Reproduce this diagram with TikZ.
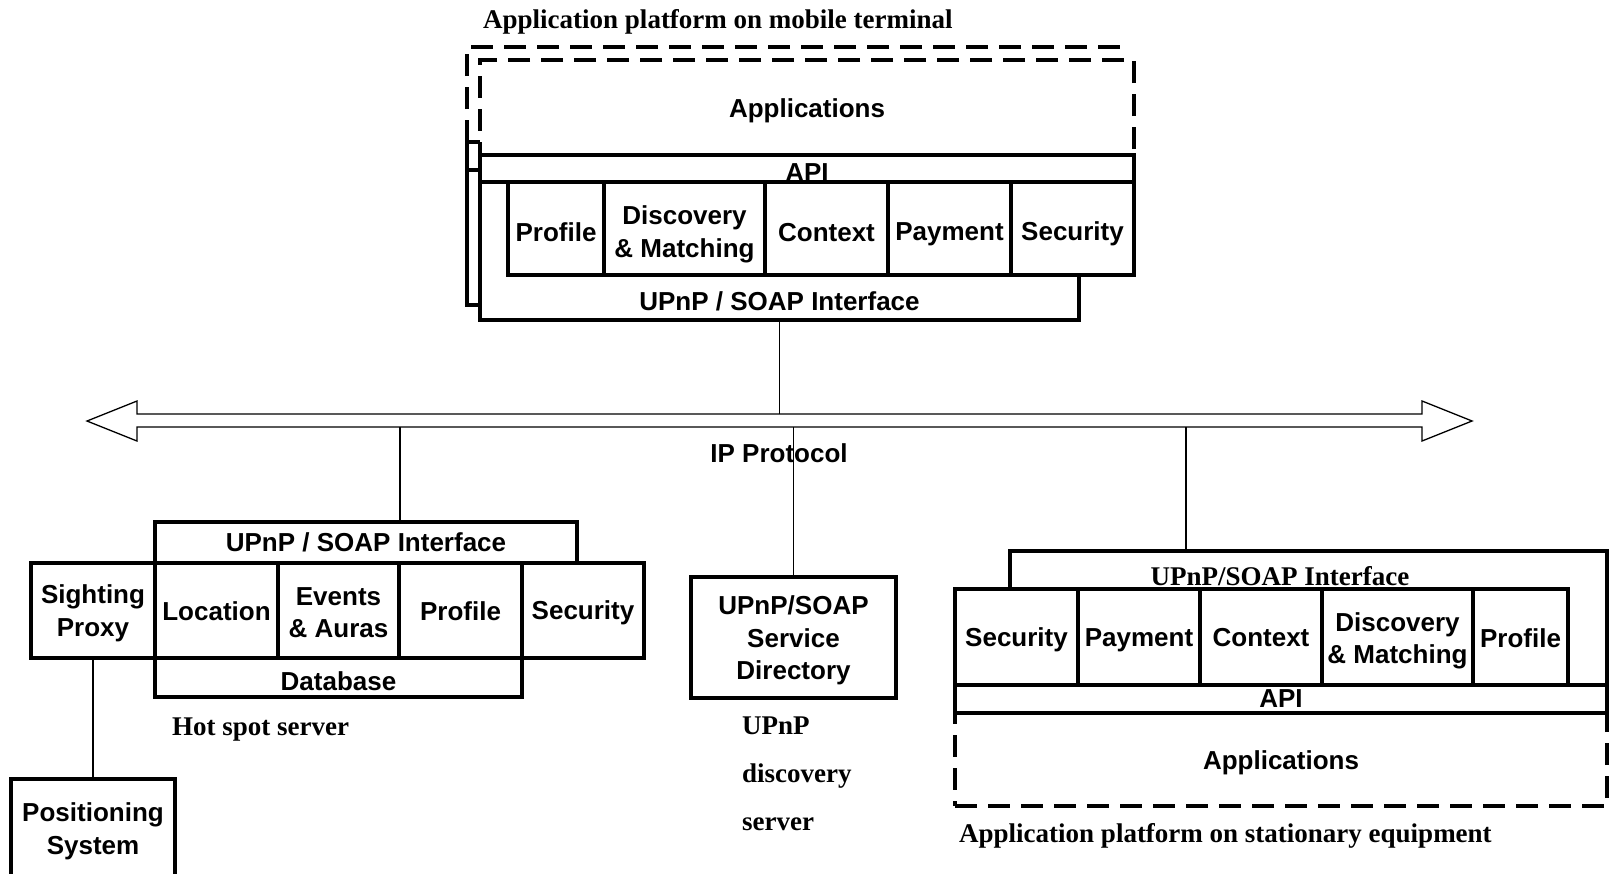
\documentclass[tikz,border=0pt]{standalone}
\usepackage{fontspec}
\setmainfont{Liberation Serif}
\newfontfamily\arialfam{Liberation Sans}
\tikzset{
 thk/.style={line width=3.5pt, line join=miter},
 thn/.style={line width=1.3pt},
 dsh/.style={line width=3.5pt, dash pattern=on 22pt off 11pt},
 sf/.style={font=\arialfam\bfseries\fontsize{26}{32.5}\selectfont, align=center, inner sep=0pt},
 rm/.style={font=\bfseries\fontsize{27}{48}\selectfont, inner sep=0pt},
 bxs/.style={thk, draw, fill=white, inner sep=0pt},
}
% \bx[box options]{name}{x1}{y1}{x2}{y2}{text drop}{text}
\newcommand\bx[8][]{%
 \node[bxs, minimum width={(#5-#3)*1pt}, minimum height={(#6-#4)*1pt}, #1] (#2) at ({(#3+#5)/2},{(#4+#6)/2}) {};
 \node[sf, yshift={-(#7)*1pt}] (#2t) at (#2.center) {#8};}
\begin{document}
\begin{tikzpicture}[x=1pt,y=-1pt]
\useasboundingbox (0,0) rectangle (1614,873);
% ---------------- top block: mobile terminal ----------------
\node[rm, anchor=base west] (ttl1) at (483,28) {Application platform on mobile terminal};
\fill[white] (467,47) rectangle (1120,142);
\draw[dsh] (467,142) -- (467,47) -- (1120,47);
\draw[thk] (480,142) -- (467,142) -- (467,305) -- (480,305);
\draw[thk] (467,170) -- (480,170);
\bx[dsh]{app1}{480}{60}{1134}{155}{3}{Applications}
\draw[thk, fill=white] (480,155) -- (1134,155) -- (1134,275) -- (1079,275) -- (1079,320) -- (480,320) -- cycle;
\draw[thk] (480,182) -- (1134,182);
\node[sf, anchor=base] (api1) at (807,181) {API};
\bx{prof1}{508}{182}{604}{275}{4}{Profile}
\bx{disc1}{604}{182}{765}{275}{6}{Discovery\\\& Matching}
\bx{ctx1}{765}{182}{888}{275}{4}{Context}
\bx{pay1}{888}{182}{1011}{275}{6}{Payment}
\bx{sec1}{1011}{182}{1134}{275}{5}{Security}
\bx[draw=none, fill=none]{up1}{480}{275}{1079}{320}{4}{UPnP / SOAP Interface}
% ---------------- bus ----------------
\draw[thn, fill=white] (87,421) -- (137,401) -- (137,414) -- (1422,414) -- (1422,401) -- (1472,421) -- (1422,441) -- (1422,427) -- (137,427) -- (137,441) -- cycle;
\node[minimum width=1285pt, minimum height=13pt, inner sep=0pt] (bus) at (779.5,420.5) {};
\draw[thn] (up1.south) -- (up1.south |- bus.north);
% ---------------- connectors below bus ----------------
\coordinate (hx) at (400,0);
\coordinate (rx) at (1186,0);
\node[minimum width=422pt, minimum height=41pt, inner sep=0pt] (up2h) at (366,542.5) {};
\node[minimum width=205pt, minimum height=121pt, inner sep=0pt] (dirh) at (793.5,637.5) {};
\node[minimum width=597pt, minimum height=38pt, inner sep=0pt] (up3) at (1308.5,570) {};
\draw[thn] (hx |- bus.south) -- (hx |- up2h.north);
\draw[thn] (dirh.north |- bus.south) -- (dirh.north);
\draw[thn] (rx |- bus.south) -- (rx |- up3.north);
\node[sf] (ip) at (779,453) {IP Protocol};
% ---------------- hot spot server ----------------
\bx{up2}{155}{522}{577}{563}{0}{UPnP / SOAP Interface}
\bx{sp}{31}{563}{155}{658}{3}{Sighting\\Proxy}
\bx{loc}{155}{563}{278}{658}{1}{Location}
\bx{ev}{278}{563}{399}{658}{2}{Events\\\& Auras}
\bx{prof2}{399}{563}{522}{658}{1}{Profile}
\bx{sec2}{522}{563}{644}{658}{2}{Security}
\bx{db}{155}{658}{522}{697}{4}{Database}
\node[rm, anchor=base west] (hs) at (172,735) {Hot spot server};
\bx{pos}{11}{779}{175}{876}{4}{Positioning\\System}
\draw[thn] (sp.south) -- (pos.north);
% ---------------- directory ----------------
\bx{dir}{691}{577}{896}{698}{3}{UPnP/SOAP\\Service\\Directory}
\node[rm, anchor=north west, align=left] (uds) at (742,717) {UPnP\\discovery\\server};
% ---------------- stationary equipment ----------------
\draw[thk, fill=white] (1010,589) -- (1010,551) -- (1607,551) -- (1607,685) -- (1568,685) -- (1568,589) -- cycle;
\node[rm, anchor=base] (up3t) at (1280,585) {UPnP/SOAP Interface};
\bx{sec3}{955}{589}{1078}{685}{3}{Security}
\bx{pay3}{1078}{589}{1200}{685}{3}{Payment}
\bx{ctx3}{1200}{589}{1322}{685}{1}{Context}
\bx{disc3}{1322}{589}{1473}{685}{4}{Discovery\\\& Matching}
\bx{prof3}{1473}{589}{1568}{685}{1}{Profile}
\bx[dsh]{app3}{955}{713}{1607}{806}{3}{Applications}
\bx{api3}{955}{685}{1607}{713}{0}{API}
\node[rm, anchor=base west] (ttl3) at (959,842) {Application platform on stationary equipment};
\end{tikzpicture}
\end{document}
